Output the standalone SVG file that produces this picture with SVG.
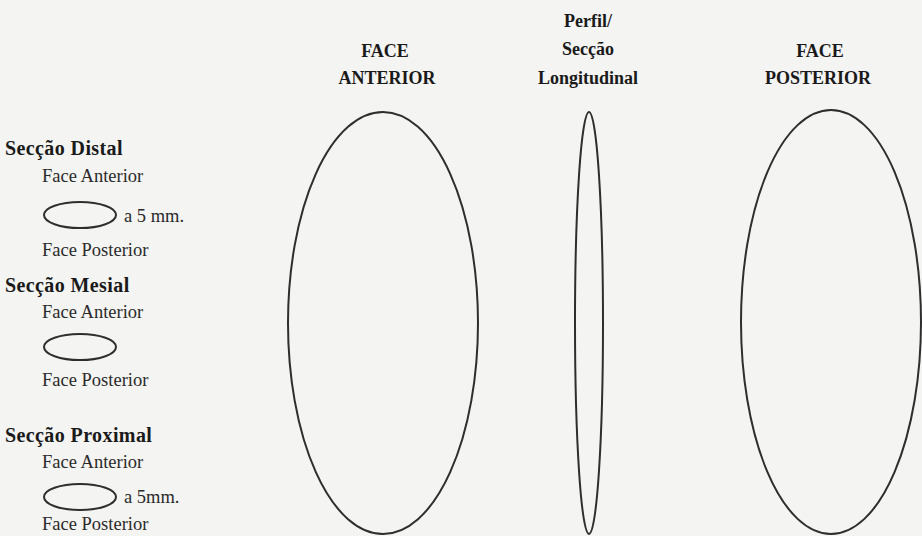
<svg xmlns="http://www.w3.org/2000/svg" width="922" height="536" viewBox="0 0 922 536">
<style>
.bg{fill:#f4f4f2}
.h{font-family:"Liberation Serif","DejaVu Serif",serif;font-weight:bold;font-size:20px;letter-spacing:0.4px;fill:#1a1a1a}
.hc{font-family:"Liberation Serif","DejaVu Serif",serif;font-weight:bold;font-size:18px;fill:#1a1a1a;text-anchor:middle}
.t{font-family:"Liberation Serif","DejaVu Serif",serif;font-size:18.5px;fill:#2a2a2a}
.e{fill:none;stroke:#2e2e2e;stroke-width:2}
</style>
<rect class="bg" x="0" y="0" width="922" height="536"/>
<g id="header-anterior">
<text class="hc" x="385" y="57">FACE</text>
<text class="hc" x="387" y="84">ANTERIOR</text>
</g>
<g id="header-perfil">
<text class="hc" x="588" y="27">Perfil/</text>
<text class="hc" x="588" y="55">Secção</text>
<text class="hc" x="588" y="84">Longitudinal</text>
</g>
<g id="header-posterior">
<text class="hc" x="820" y="57">FACE</text>
<text class="hc" x="818" y="84">POSTERIOR</text>
</g>
<g id="seccao-distal">
<text class="h" x="5" y="155">Secção Distal</text>
<text class="t" x="42" y="182">Face Anterior</text>
<ellipse class="e" cx="80" cy="215" rx="36" ry="13"/>
<text class="t" x="124" y="222">a 5 mm.</text>
<text class="t" x="42" y="256">Face Posterior</text>
</g>
<g id="seccao-mesial">
<text class="h" x="5" y="292">Secção Mesial</text>
<text class="t" x="42" y="318">Face Anterior</text>
<ellipse class="e" cx="80" cy="347" rx="36" ry="13"/>
<text class="t" x="42" y="386">Face Posterior</text>
</g>
<g id="seccao-proximal">
<text class="h" x="5" y="442">Secção Proximal</text>
<text class="t" x="42" y="468">Face Anterior</text>
<ellipse class="e" cx="80" cy="497" rx="36" ry="13"/>
<text class="t" x="124" y="503">a 5mm.</text>
<text class="t" x="42" y="530">Face Posterior</text>
</g>
<g id="face-anterior">
<ellipse class="e" cx="383" cy="323" rx="95" ry="211"/>
</g>
<g id="perfil-longitudinal">
<ellipse class="e" cx="589" cy="323" rx="14" ry="211"/>
</g>
<g id="face-posterior">
<ellipse class="e" cx="831" cy="322" rx="90" ry="212"/>
</g>
<g id="connectors"></g>
</svg>
